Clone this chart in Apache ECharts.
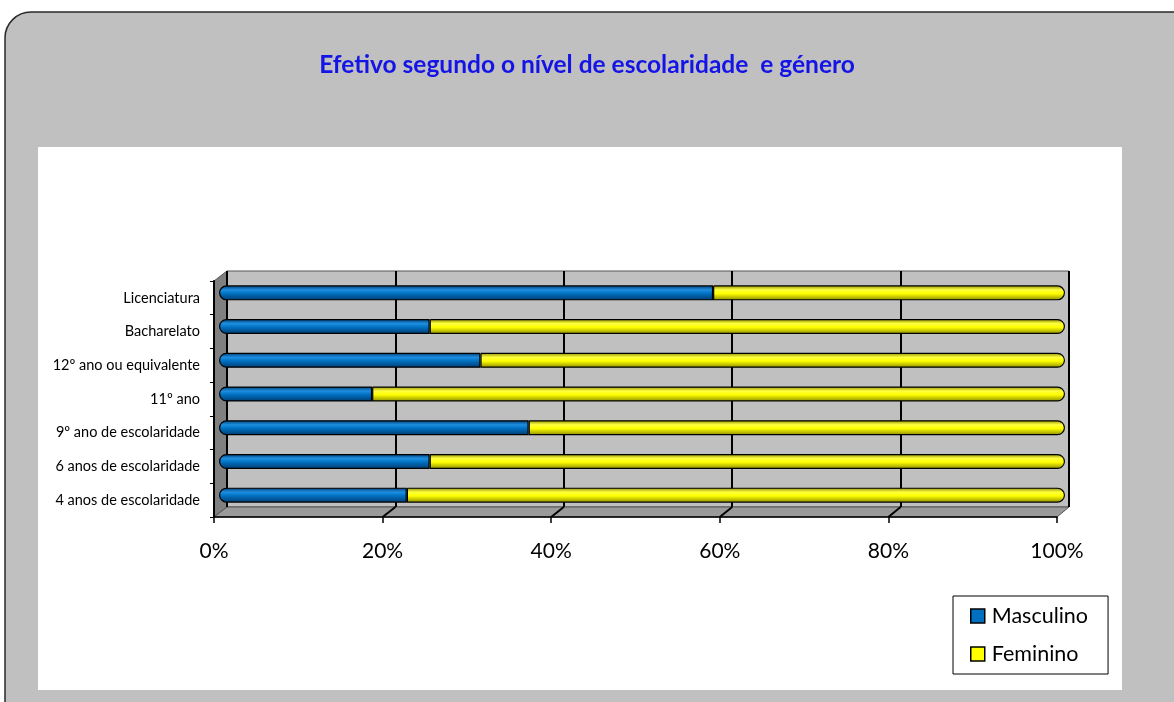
<!DOCTYPE html>
<html>
<head>
<meta charset="utf-8">
<script src="https://cdn.jsdelivr.net/npm/echarts@6/dist/echarts.min.js"></script>
<style>
  html, body { margin: 0; padding: 0; background: #fff; }
  #chart { width: 1174px; height: 702px; }
</style>
</head>
<body>
<div id="chart"></div>
<script>
// categorias (de baixo para cima, como o eixo do ECharts)
const categories = ['4 anos de escolaridade', '6 anos de escolaridade', '9º ano de escolaridade',
    '11º ano', '12º ano ou equivalente', 'Bacharelato', 'Licenciatura'];
// percentagens
const masculino = [22.2, 24.9, 36.6, 18.1, 30.9, 24.9, 58.4];
const feminino = [77.8, 75.1, 63.4, 81.9, 69.1, 75.1, 41.6];
const xTicks = [0, 20, 40, 60, 80, 100];

const fontFam = 'Lato, "Liberation Sans", sans-serif';

// gradiente para dar o efeito de cilindro
function tubo(dark, mid, light) {
    return new echarts.graphic.LinearGradient(0, 0, 0, 1, [
        {offset: 0, color: dark},
        {offset: 0.3, color: light},
        {offset: 0.55, color: mid},
        {offset: 1, color: dark}
    ]);
}

const myChart = echarts.init(document.getElementById('chart'));

const option = {
    animation: false,
    title: {
        text: 'Efetivo segundo o nível de escolaridade  e género',
        left: 'center',
        top: 48,
        textStyle: {color: '#1414e6', fontSize: 24.5, fontWeight: 'bold', fontFamily: fontFam}
    },
    legend: {
        orient: 'vertical',
        left: 953,
        top: 596,
        padding: [9, 20, 9, 17],
        itemGap: 16,
        itemWidth: 14,
        itemHeight: 14,
        backgroundColor: '#fff',
        borderColor: '#000',
        borderWidth: 1,
        textStyle: {fontSize: 21.5, fontFamily: fontFam, color: '#000', padding: [0, 0, 0, 2]},
        data: [
            {name: 'Masculino', icon: 'rect', itemStyle: {color: '#0070c0', borderColor: '#000', borderWidth: 1.5}},
            {name: 'Feminino', icon: 'rect', itemStyle: {color: '#ffff00', borderColor: '#000', borderWidth: 1.5}}
        ]
    },
    graphic: [
        {type: 'rect', z: -10, shape: {x: 5, y: 12, width: 1200, height: 720, r: 26},
            style: {fill: '#c0c0c0', stroke: '#2a2a2a', lineWidth: 1.5}},
        {type: 'rect', z: -9, shape: {x: 38, y: 147, width: 1084, height: 543},
            style: {fill: '#fff'}},
        // parede lateral e chão (efeito 3D)
        {type: 'polygon', z: -5, shape: {points: [[214, 281], [227, 271], [227, 507], [214, 517]]},
            style: {fill: '#808080', stroke: '#555', lineWidth: 1}},
        {type: 'polygon', z: -5, shape: {points: [[214, 517], [227, 507], [1069, 507], [1057, 517]]},
            style: {fill: '#9a9a9a', stroke: '#555', lineWidth: 1}}
    ],
    grid: [
        // barras
        {left: 219, right: 109, top: 276, bottom: 190},
        // parede do fundo
        {left: 227, right: 105, top: 271, bottom: 195, show: true, z: -6,
            backgroundColor: '#c0c0c0', borderColor: '#555', borderWidth: 1},
        // eixos da frente
        {left: 214, right: 117, top: 281, bottom: 185}
    ],
    xAxis: [
        {gridIndex: 0, type: 'value', min: 0, max: 100, show: false},
        {gridIndex: 1, type: 'value', min: 0, max: 100, interval: 20,
            axisLine: {show: false}, axisTick: {show: false}, axisLabel: {show: false},
            splitLine: {show: true, lineStyle: {color: '#000', width: 2}}},
        {gridIndex: 2, type: 'value', min: 0, max: 100, interval: 20,
            axisLine: {show: true, lineStyle: {color: '#000', width: 1.5}},
            axisTick: {show: true, length: 6, lineStyle: {color: '#000', width: 1.5}},
            splitLine: {show: false},
            axisLabel: {
                margin: 24, fontSize: 21, fontFamily: fontFam, color: '#000',
                formatter: function (v) { return xTicks.indexOf(v) >= 0 ? v + '%' : ''; }
            }}
    ],
    yAxis: [
        {gridIndex: 0, type: 'category', data: categories, show: false},
        {gridIndex: 1, type: 'category', data: categories, show: false},
        {gridIndex: 2, type: 'category', data: categories,
            axisLine: {show: true, lineStyle: {color: '#000', width: 2}},
            axisTick: {show: true, length: 4, lineStyle: {color: '#000'}},
            axisLabel: {margin: 14, fontSize: 14.5, fontFamily: fontFam, color: '#000'}}
    ],
    series: [
        {
            name: 'Masculino', type: 'bar', stack: 'total', xAxisIndex: 0, yAxisIndex: 0,
            barWidth: 15, data: masculino,
            itemStyle: {color: tubo('#003a6e', '#0070c0', '#1e8ee0'), borderColor: '#000', borderWidth: 1.2,
                borderRadius: [7, 0, 0, 7]}
        },
        {
            name: 'Feminino', type: 'bar', stack: 'total', xAxisIndex: 0, yAxisIndex: 0,
            barWidth: 15, data: feminino,
            itemStyle: {color: tubo('#8a8a00', '#ffff00', '#ffff40'), borderColor: '#000', borderWidth: 1.2,
                borderRadius: [0, 7, 7, 0]}
        }
    ]
};
myChart.setOption(option);

// linhas diagonais no chão, ligando a grelha do fundo aos traços da frente
const diag = [];
xTicks.slice(1, -1).forEach(function (t) {
    const back = myChart.convertToPixel({xAxisIndex: 1}, t);
    const front = myChart.convertToPixel({xAxisIndex: 2}, t);
    diag.push({type: 'line', z: -4, shape: {x1: back, y1: 507, x2: front, y2: 517},
        style: {stroke: '#000', lineWidth: 2}});
});
myChart.setOption({graphic: option.graphic.concat(diag)});
</script>
</body>
</html>
